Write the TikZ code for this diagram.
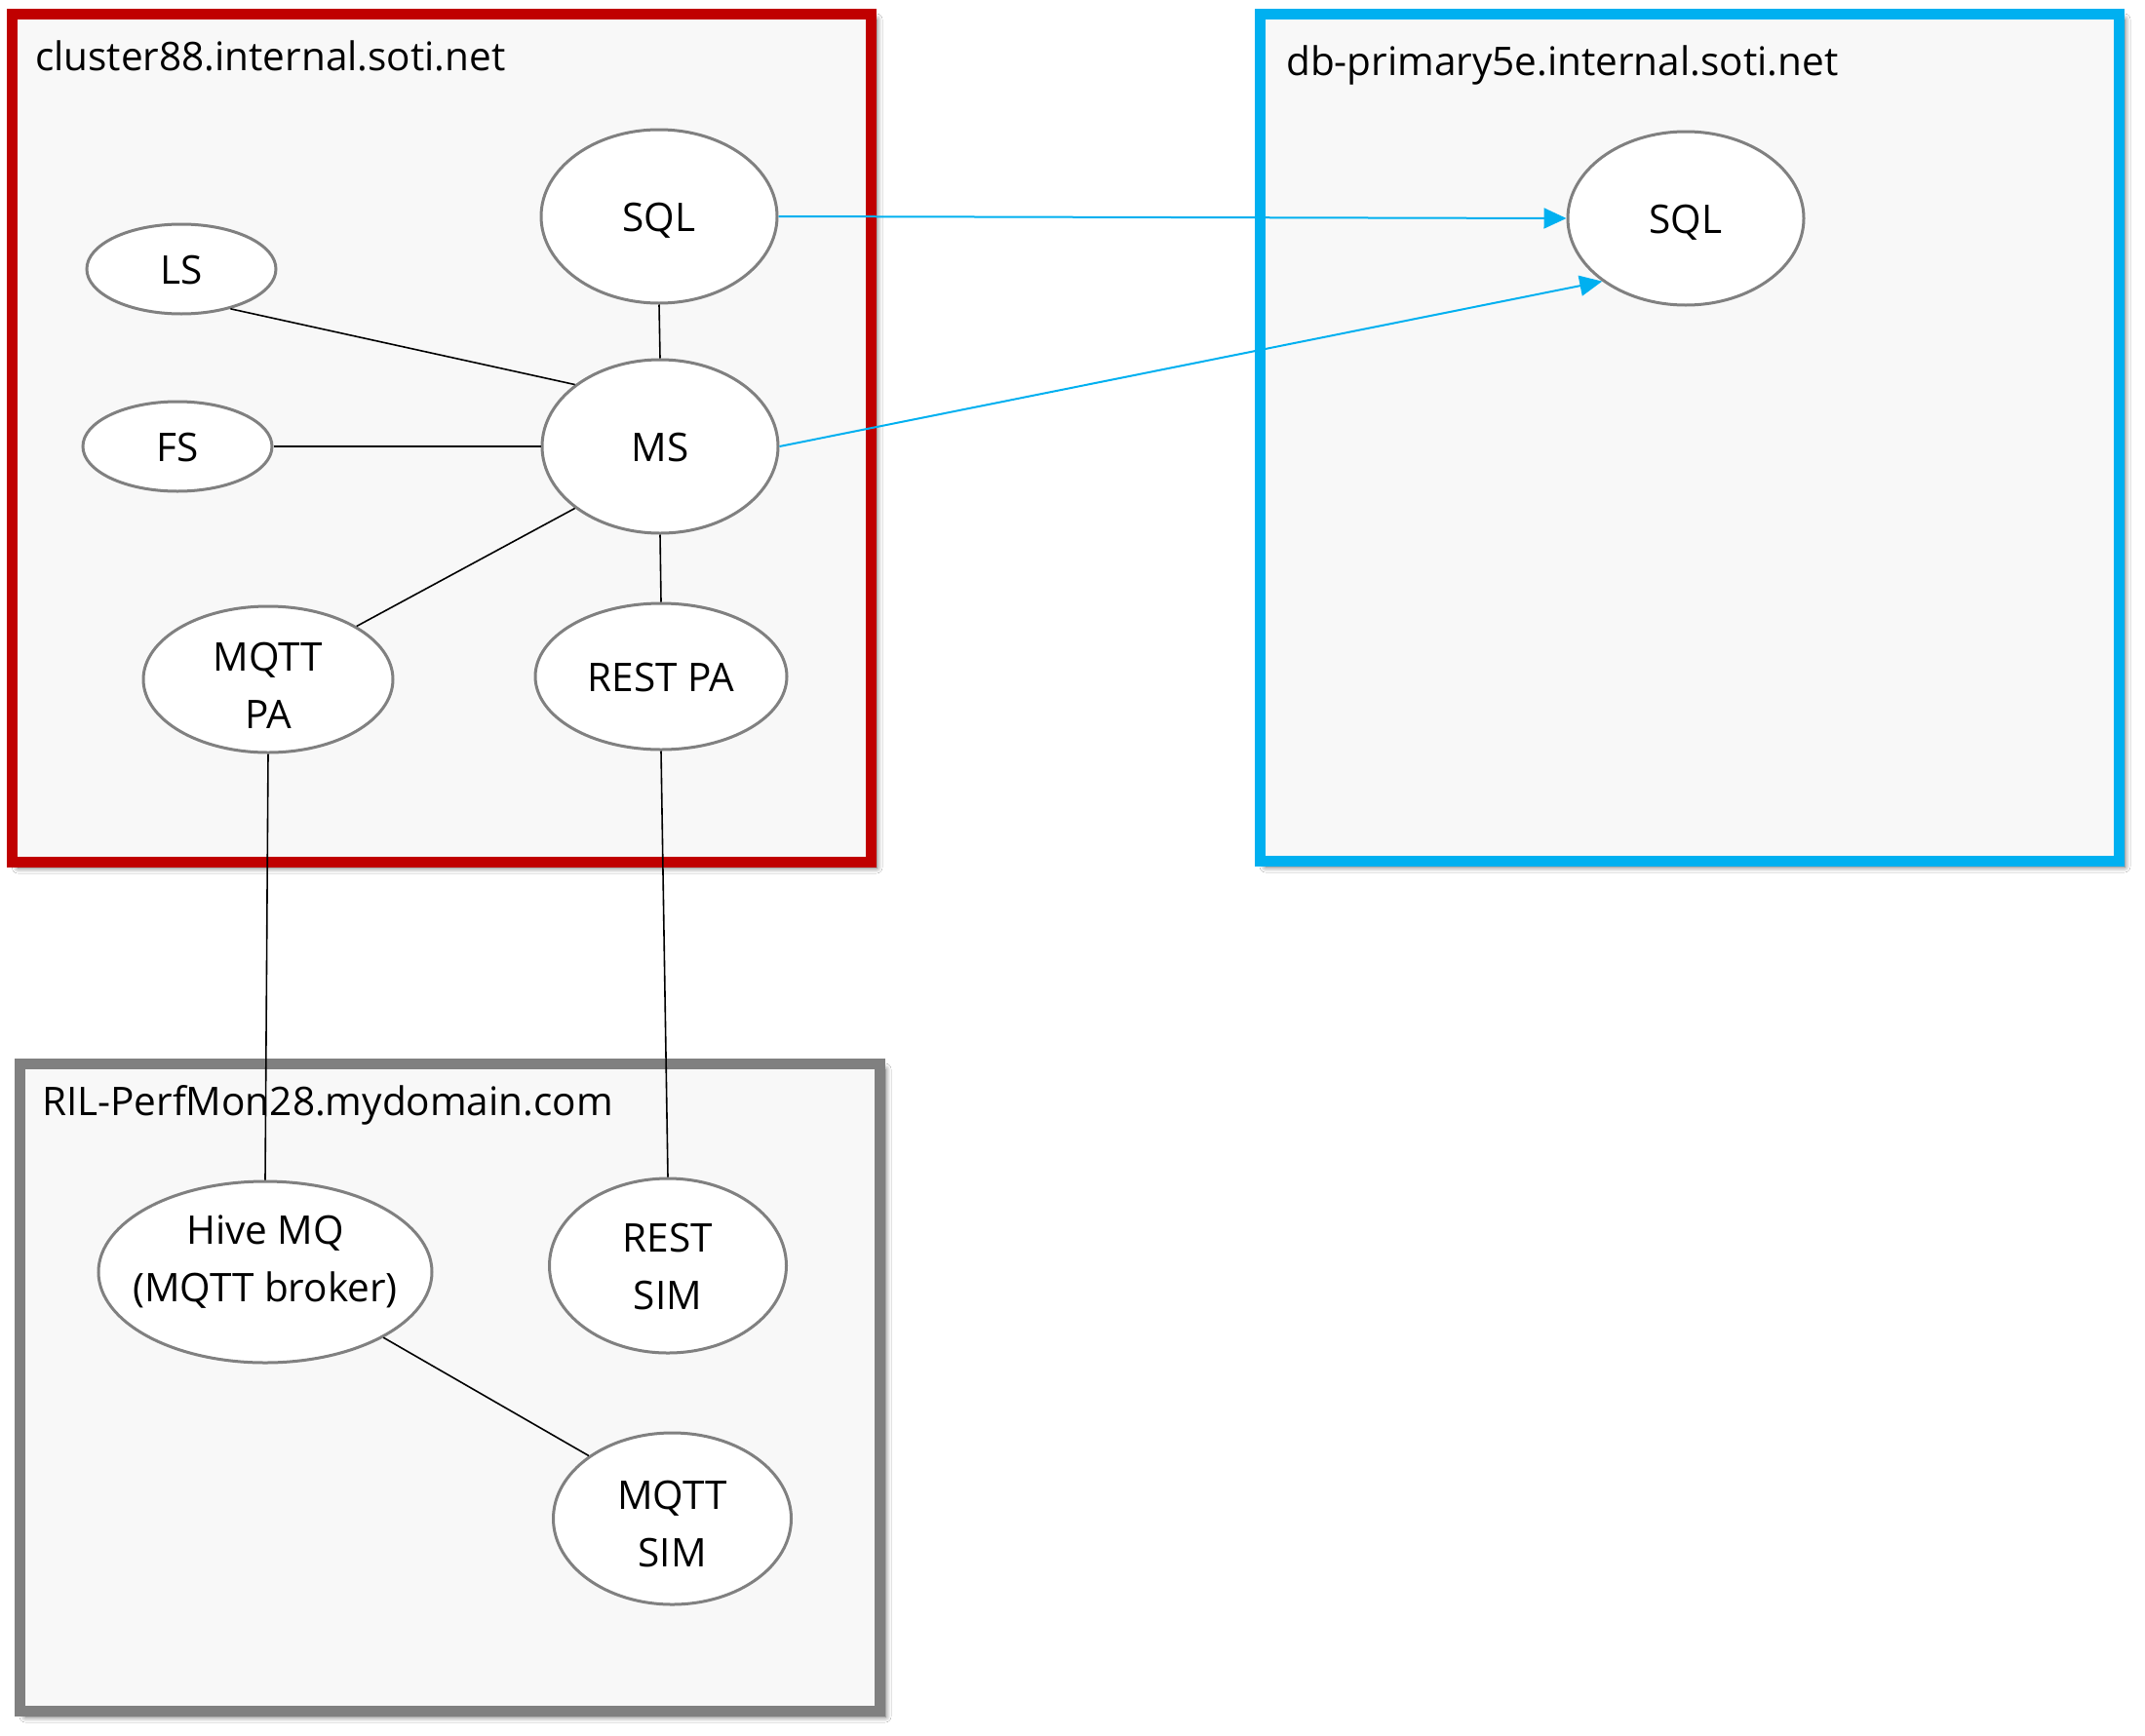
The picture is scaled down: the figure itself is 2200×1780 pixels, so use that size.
\documentclass[tikz,border=0pt]{standalone}
\usepackage{fontspec}
\setmainfont{Open Sans}
\usetikzlibrary{shapes.geometric,arrows.meta,shadows.blur}
\definecolor{cred}{HTML}{C00000}
\definecolor{cblue}{HTML}{00B0F0}
\definecolor{cgray}{HTML}{808080}
\definecolor{cfill}{HTML}{F8F8F8}
\definecolor{cell}{HTML}{808080}
\newcommand\myfont{\fontsize{40.5}{59}\selectfont}
\begin{document}
\begin{tikzpicture}[x=1pt,y=-1pt,
  hostbox/.style={rectangle, inner sep=0pt, line width=11pt, fill=cfill,
    blur shadow={shadow xshift=6pt, shadow yshift=-6pt, shadow blur radius=6pt, shadow blur steps=8, shadow opacity=60}},
  ell/.style={ellipse, draw=cell, line width=3pt, fill=white, inner sep=0pt, align=center, font=\myfont},
  one/.style={text height=30pt, text depth=0pt},
  two/.style={text height=#1, text depth=0pt},
  title/.style={anchor=base west, inner sep=0pt, font=\myfont},
  link/.style={draw=black, line width=1.6pt},
  arr/.style={draw=cblue, line width=2pt, -{Triangle[length=23pt,width=21pt]}}
]
\useasboundingbox (0,0) rectangle (2200,1780);
\fill[white] (0,0) rectangle (2200,1780);

% host boxes
\node[hostbox, draw=cred, minimum width=880.5pt, minimum height=870pt] (cluster) at (452.75,449) {};
\node[hostbox, draw=cblue, minimum width=881pt, minimum height=869pt] (db) at (1732.5,448.5) {};
\node[hostbox, draw=cgray, minimum width=882pt, minimum height=664pt] (ril) at (461,1423) {};

% titles
\node[title] (t1) at (36,72) {cluster88.internal.soti.net};
\node[title] (t2) at (1319,77) {db-primary5e.internal.soti.net};
\node[title] (t3) at (43,1144) {RIL-PerfMon28.mydomain.com};

% ellipses
\node[ell, one, minimum width=242pt, minimum height=178pt] (sqlA) at (676,222) {SQL};
\node[ell, one, minimum width=194pt, minimum height=92pt] (ls) at (186,276) {LS};
\node[ell, one, minimum width=194pt, minimum height=92pt] (fs) at (182,458) {FS};
\node[ell, one, minimum width=242pt, minimum height=178pt] (ms) at (677,458) {MS};
\node[ell, two=100pt, minimum width=256pt, minimum height=150pt] (mqttpa) at (275,697) {MQTT\\PA};
\node[ell, one, minimum width=258pt, minimum height=150pt] (restpa) at (678,694) {REST PA};
\node[ell, one, minimum width=242pt, minimum height=178pt] (sqlB) at (1729,224) {SQL};
\node[ell, two=61pt, minimum width=342pt, minimum height=186pt, inner xsep=-70pt] (hive) at (272,1305) {Hive MQ\\(MQTT broker)};
\node[ell, two=89pt, minimum width=243pt, minimum height=179pt] (restsim) at (685,1298.5) {REST\\SIM};
\node[ell, two=98pt, minimum width=244pt, minimum height=176pt] (mqttsim) at (689.5,1558) {MQTT\\SIM};

% connectors
\draw[link] (ls.-39) -- (ms.144);
\draw[link] (fs.east) -- (ms.west);
\draw[link] (sqlA.south) -- (ms.north);
\draw[link] (ms.216) -- (mqttpa.31);
\draw[link] (ms.south) -- (restpa.north);
\draw[link] (mqttpa.south) -- (hive.north);
\draw[link] (restpa.south) -- (restsim.north);
\draw[link] (hive.-29) -- (mqttsim.143);
\draw[arr] (sqlA.east) -- (sqlB.west);
\draw[arr] (ms.east) -- (sqlB.217);
\end{tikzpicture}
\end{document}
